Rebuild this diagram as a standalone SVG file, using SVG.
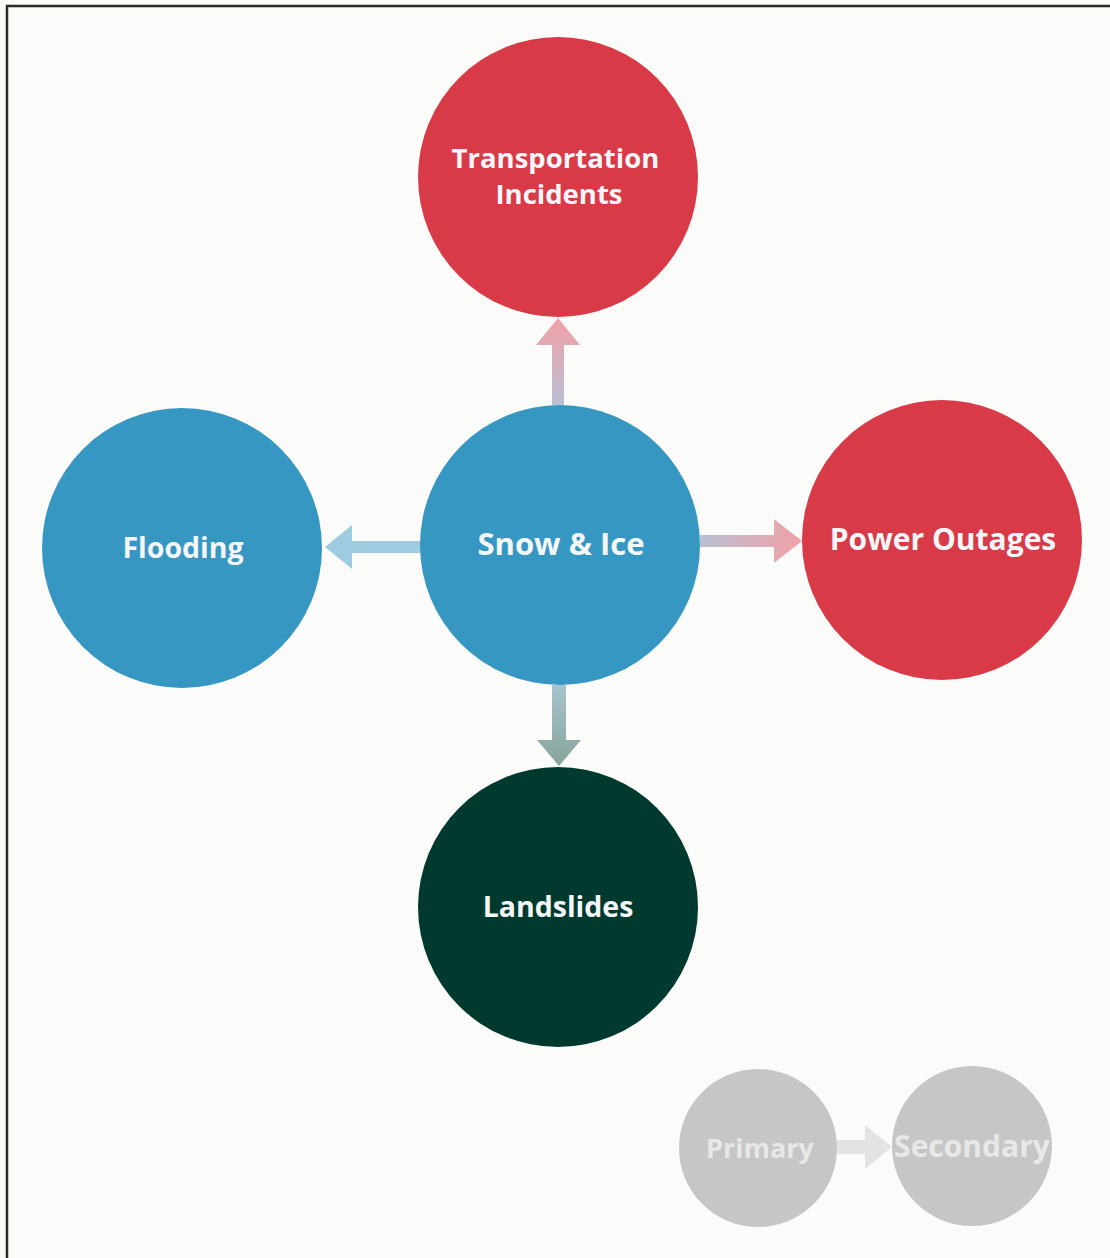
<svg xmlns="http://www.w3.org/2000/svg" width="1110" height="1258" viewBox="0 0 1110 1258">
  <style>
    .lbl { font-family: "Open Sans", Lato, "Liberation Sans", sans-serif; font-weight: 700; font-size: 28.5px; fill: #f4f6f8; text-anchor: middle; font-variant-ligatures: none; }
    .leg { font-family: "Open Sans", Lato, "Liberation Sans", sans-serif; font-weight: 700; font-size: 27px; fill: #e8e8e8; text-anchor: middle; font-variant-ligatures: none; }
    .red { fill: #d93a48; }
    .blue { fill: #3797c3; }
    .green { fill: #003a2f; }
    .grey { fill: #c6c6c6; }
  </style>
  <defs>
    <linearGradient id="gUp" x1="0" y1="405" x2="0" y2="318" gradientUnits="userSpaceOnUse">
      <stop offset="0" stop-color="#b9bfd2"/>
      <stop offset="1" stop-color="#f2a0a8"/>
    </linearGradient>
    <linearGradient id="gRight" x1="700" y1="0" x2="802" y2="0" gradientUnits="userSpaceOnUse">
      <stop offset="0" stop-color="#b9bfd2"/>
      <stop offset="1" stop-color="#f2a0a8"/>
    </linearGradient>
    <linearGradient id="gDown" x1="0" y1="685" x2="0" y2="766" gradientUnits="userSpaceOnUse">
      <stop offset="0" stop-color="#a9c3cc"/>
      <stop offset="1" stop-color="#87a49c"/>
    </linearGradient>
  </defs>

  <!-- page background and frame -->
  <rect x="0" y="0" width="1110" height="1258" fill="#fbfbf9"/>
  <path d="M7 1258 V6 H1110" fill="none" stroke="#2e2b26" stroke-width="2.5"/>

  <!-- connectors -->
  <g id="connectors">
    <path d="M552 405 V345 H536 L558 318 L580 345 H564 V405 Z" fill="url(#gUp)"/>
    <path d="M421 541 H352 V525 L325 547 L352 569 V553 H421 Z" fill="#9fcbe0"/>
    <path d="M700 535 H774 V519 L802 541 L774 563 V547 H700 Z" fill="url(#gRight)"/>
    <path d="M552 685 V740 H537 L559 766 L581 740 H566 V685 Z" fill="url(#gDown)"/>
    <path d="M837 1140 H865 V1125 L892 1147 L865 1169 V1154 H837 Z" fill="#e3e3e3"/>
  </g>

  <g id="node-transportation">
    <circle class="red" cx="558" cy="177" r="140"/>
    <text class="lbl" style="font-size:27.5px">
      <tspan x="559" y="168">Transportation</tspan>
      <tspan x="559" y="204">Incidents</tspan>
    </text>
  </g>
  <g id="node-flooding">
    <circle class="blue" cx="182" cy="548" r="140"/>
    <text class="lbl" x="183" y="558">Flooding</text>
  </g>
  <g id="node-snow-ice">
    <circle class="blue" cx="560" cy="545" r="140"/>
    <text class="lbl" x="561" y="555" style="font-size:31px">Snow &amp; Ice</text>
  </g>
  <g id="node-power">
    <circle class="red" cx="942" cy="540" r="140"/>
    <text class="lbl" x="943" y="550" style="font-size:30px">Power Outages</text>
  </g>
  <g id="node-landslides">
    <circle class="green" cx="558" cy="907" r="140"/>
    <text class="lbl" x="558" y="917">Landslides</text>
  </g>

  <!-- key -->
  <g id="legend-primary">
    <circle class="grey" cx="758" cy="1148" r="79"/>
    <text class="leg" x="760" y="1158">Primary</text>
  </g>
  <g id="legend-secondary">
    <circle class="grey" cx="972" cy="1146" r="80"/>
    <text class="leg" x="972" y="1157" style="font-size:30px">Secondary</text>
  </g>
</svg>
